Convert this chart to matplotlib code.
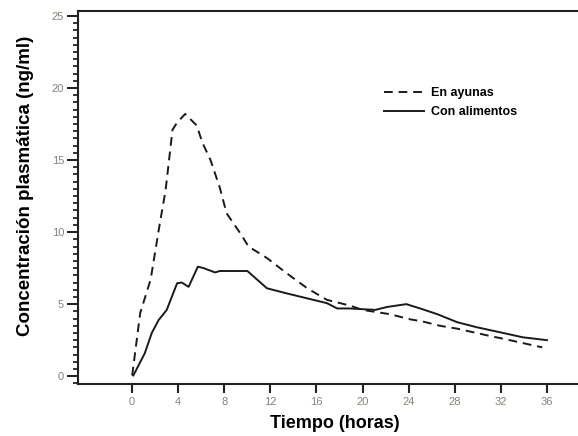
import numpy as np
import matplotlib
matplotlib.use('Agg')
import matplotlib.pyplot as plt
from matplotlib.ticker import MultipleLocator

plt.rcParams['font.family'] = ['Liberation Sans', 'DejaVu Sans']

# Fasting curve (En ayunas)
t_ayunas = [0, 0.7, 1.6, 2.4, 2.9, 3.5, 3.9, 4.6, 5.6, 6.1, 6.8, 7.6, 8.2, 9.4, 10.1,
            11.7, 13.4, 15.2, 16.9, 18.9, 20.0, 22.4, 24.1, 25.2, 26.7, 28.2, 29.6,
            31.0, 32.5, 33.9, 35.6]
c_ayunas = [0.05, 4.4, 6.7, 10.6, 12.9, 17.1, 17.6, 18.2, 17.4, 16.2, 15.0, 13.1, 11.3,
            9.9, 9.0, 8.2, 7.15, 6.1, 5.3, 4.9, 4.6, 4.3, 3.95, 3.8, 3.5, 3.3, 3.05,
            2.8, 2.55, 2.3, 2.0]

# Fed curve (Con alimentos)
t_alim = [0.1, 1.1, 1.7, 2.3, 3.0, 3.9, 4.3, 4.9, 5.7, 6.2, 7.2, 7.6, 10.0, 11.7, 13.4,
          15.2, 16.9, 17.8, 18.9, 21.1, 22.1, 23.8, 25.0, 26.5, 28.2, 29.9, 32.2,
          33.9, 36.0]
c_alim = [0.05, 1.6, 3.0, 3.9, 4.6, 6.45, 6.5, 6.2, 7.6, 7.5, 7.2, 7.3, 7.3, 6.1, 5.75,
          5.4, 5.07, 4.7, 4.7, 4.6, 4.8, 5.0, 4.7, 4.3, 3.75, 3.4, 3.0, 2.7, 2.5]

xticks = [0, 4, 8, 12, 16, 20, 24, 28, 32, 36]
yticks = [0, 5, 10, 15, 20, 25]

fig = plt.figure(figsize=(5.78, 4.36), dpi=100)
ax = fig.add_axes([0.135, 0.119, 0.865, 0.856])

ax.plot(t_ayunas, c_ayunas, color='#1a1a1a', lw=1.4, linestyle=(0, (4.5, 3)), label='En ayunas')
ax.plot(t_alim, c_alim, color='#1a1a1a', lw=1.4, label='Con alimentos')

ax.set_xlim(-4.7, 38.7)
ax.set_ylim(-0.55, 25.35)
ax.set_xticks(xticks)
ax.set_yticks(yticks)
ax.yaxis.set_minor_locator(MultipleLocator(0.5))

ax.spines['right'].set_visible(False)
for s in ['left', 'bottom', 'top']:
    ax.spines[s].set_linewidth(1.5)
    ax.spines[s].set_color('#222222')

ax.tick_params(axis='both', which='major', labelsize=8, labelcolor='#84847a',
               width=1.5, color='#222222', direction='out')
ax.tick_params(axis='x', which='major', length=6.5, pad=3)
ax.tick_params(axis='y', which='major', length=8, pad=2)
ax.tick_params(axis='y', which='minor', length=3.6, width=1.3, color='#222222')

ax.set_xlabel('Tiempo (horas)', fontsize=13, fontweight='bold')
ax.xaxis.set_label_coords(0.514, -0.082)
ax.set_ylabel('Concentración plasmática (ng/ml)', fontsize=13.5, fontweight='bold')
ax.yaxis.set_label_coords(-0.088, 0.53)

ax.legend(loc='upper left', bbox_to_anchor=(0.59, 0.825), frameon=False,
          prop={'weight': 'bold', 'size': 9}, handlelength=3.2, handletextpad=0.55,
          labelspacing=0.55)

fig.savefig('out.png', dpi=100)
